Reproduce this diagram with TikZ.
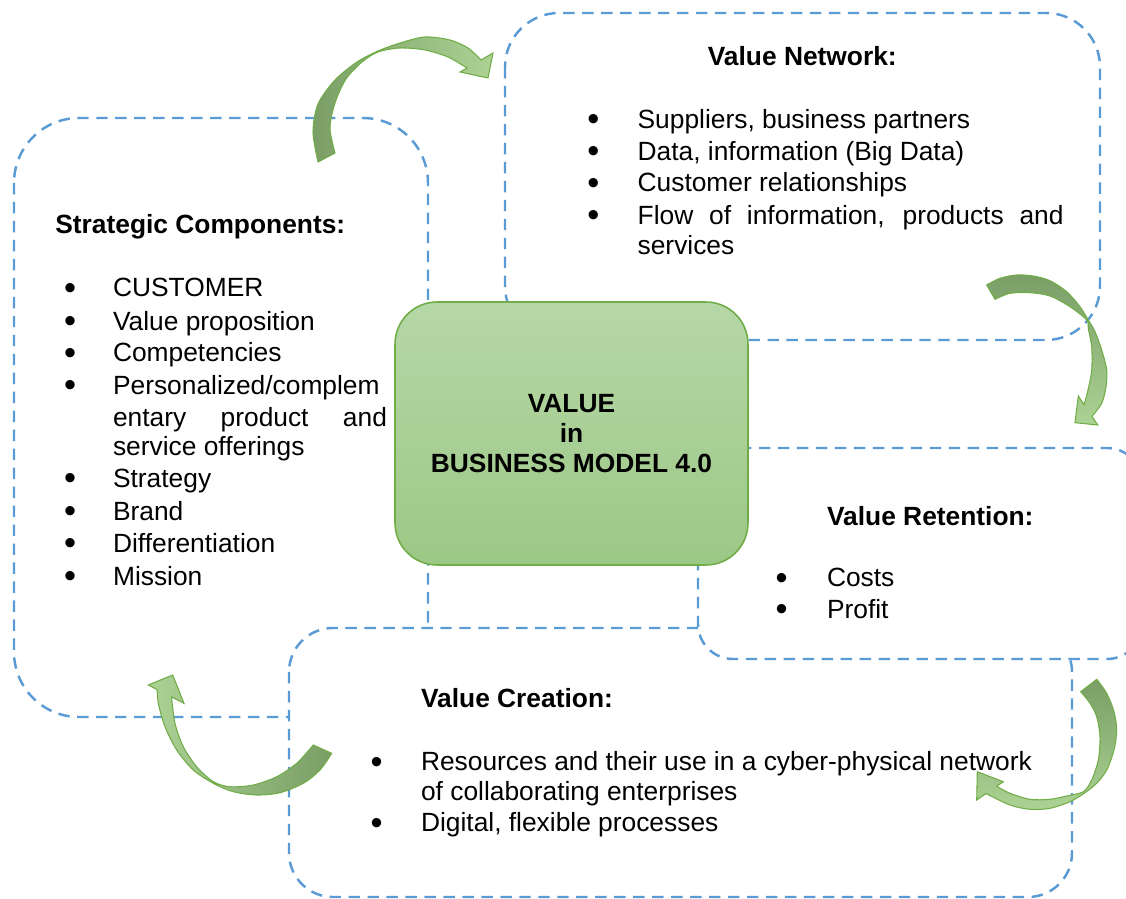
\documentclass[tikz,border=0pt]{standalone}
\usepackage{fontspec}
\setmainfont{Liberation Sans}
\definecolor{boxblue}{RGB}{91,155,213}
\definecolor{leafline}{RGB}{112,173,71}
\definecolor{leaftop}{RGB}{182,215,167}
\definecolor{leafbottom}{RGB}{156,200,134}
\definecolor{arrowdark}{RGB}{122,158,102}
\definecolor{arrowlight}{RGB}{172,210,148}
\newcommand{\bigdot}{\raisebox{-1.5pt}{\scalebox{1.3}{\textbullet}}}

\begin{document}
\begin{tikzpicture}[x=0.02cm, y=-0.02cm,
	dashbox/.style={draw=boxblue, line width=1.4pt, dash pattern=on 6.5pt off 4.3pt, fill=white},
	valuebox/.style={draw=leafline, line width=0.9pt, top color=leaftop, bottom color=leafbottom, rounded corners=0.84cm, minimum width=7.06cm, minimum height=5.26cm, align=center, font=\fontsize{15}{17}\selectfont\bfseries},
	bendarrow/.style={draw=leafline, line width=0.6pt},
	itemtext/.style={anchor=base west, inner sep=0pt, font=\fontsize{15}{18}\selectfont},
	headtext/.style={anchor=base west, inner sep=0pt, font=\fontsize{15}{18}\selectfont\bfseries},
	bulletdot/.style={anchor=base, inner sep=0pt, font=\fontsize{15}{18}\selectfont}]
			%%%%% START %%%%%
			
			\useasboundingbox (0,0) rectangle (1126,899);
			\clip (0,0) rectangle (1126,899);
			
			% dashed boxes
			\draw[dashbox, rounded corners=1.3cm] (14,118) rectangle (428,717);
			\draw[dashbox, rounded corners=1.08cm] (505,13) rectangle (1100,340);
			\draw[dashbox, rounded corners=0.88cm] (289,628) rectangle (1072,897);
			\draw[dashbox, rounded corners=0.7cm] (698,448) rectangle (1142,659);
			
			% centre
			\node[valuebox] (value) at (571.5,433.5) {VALUE\\in\\BUSINESS MODEL 4.0};
			
			% curved arrows
			\draw[bendarrow, left color=arrowdark, right color=arrowlight]
				plot[smooth] coordinates {(318,162) (313,132) (318,104) (335,80) (357,62) (378,51) (400,43) (425,37) (450,40) (468,48) (481,60)}
				-- (493,53) -- (488,78) -- (460,72)
				-- plot[smooth] coordinates {(467,68) (448,57) (425,50) (400,48) (378,52) (362,62) (346,79) (335,103) (330,128) (335,153)}
				-- cycle;
			
			\draw[bendarrow, top color=arrowdark, bottom color=arrowlight]
				plot[smooth] coordinates {(986.7,285) (1000,278.3) (1016.7,275) (1033.3,276) (1050,280.7) (1066.7,291.7) (1080,306.7) (1088.3,320) (1095,331.7) (1101.7,350) (1106.7,370) (1106,386.7) (1101.7,403.3) (1092,416.3)}
				-- (1097.7,425) -- (1075,422.7) -- (1078.3,396)
				-- plot[smooth] coordinates {(1084.1,404.7) (1088,390) (1091.7,370) (1091.7,346.7) (1088.3,329) (1086.7,320) (1070,306.7) (1050,296) (1030,292.7) (1010,293.3) (995,299.3)}
				-- cycle;
			
			\draw[bendarrow, top color=arrowdark, bottom color=arrowlight]
				plot[smooth] coordinates {(1096.7,679.3) (1106.7,693.3) (1114,711.7) (1116.7,730) (1114,750) (1106.7,770) (1096.7,783.3) (1085,792.7) (1070,801.7) (1050,808.3) (1030,809.3) (1010,805) (986,793.6)}
				-- (976.7,800) -- (977.3,771.7) -- (1003.3,781.7)
				-- plot[smooth] coordinates {(996.7,786.3) (1010,793.3) (1030,799.3) (1050,799.3) (1066.7,796) (1083.3,791.7) (1091.7,780) (1098.3,760) (1100,736.7) (1096.7,716.7) (1090,703.3) (1080.7,691.7)}
				-- cycle;
			
			\draw[bendarrow, left color=arrowlight, right color=arrowdark]
				plot[smooth] coordinates {(331.7,753.3) (320,770) (303.3,783.3) (280,792.7) (256.7,795) (233.3,791.7) (213.3,783.3) (193.3,770) (176.7,750) (165,726.7) (158.3,703.3) (157.2,689.6)}
				-- (148.3,685) -- (172.7,675) -- (184,703.3)
				-- plot[smooth] coordinates {(171.5,696.9) (175,723.3) (183.3,746.7) (196.7,766.7) (213.3,781.7) (230,786.7) (253.3,785) (276.7,776.7) (296.7,763.3) (313.3,745)}
				-- cycle;
			
			% strategic components
			\node[headtext] (stratHead) at (55,233.3) {Strategic Components:};
			\node[bulletdot] (stratB1) at (70,296.7) {\bigdot};
			\node[itemtext] (strat1) at (112.7,296.7) {CUSTOMER};
			\node[bulletdot] (stratB2) at (70,330) {\bigdot};
			\node[itemtext] (strat2) at (112.7,330) {Value proposition};
			\node[bulletdot] (stratB3) at (70,361.7) {\bigdot};
			\node[itemtext] (strat3) at (112.7,361.7) {Competencies};
			\node[bulletdot] (stratB4) at (70,394) {\bigdot};
			\node[itemtext] (strat4a) at (112.7,394) {Personalized/complem};
			\node[itemtext] (strat4b) at (112.7,426.7) {\makebox[5.48cm][s]{entary product and}};
			\node[itemtext] (strat4c) at (112.7,455) {service offerings};
			\node[bulletdot] (stratB5) at (70,487.3) {\bigdot};
			\node[itemtext] (strat5) at (112.7,487.3) {Strategy};
			\node[bulletdot] (stratB6) at (70,520) {\bigdot};
			\node[itemtext] (strat6) at (112.7,520) {Brand};
			\node[bulletdot] (stratB7) at (70,552.3) {\bigdot};
			\node[itemtext] (strat7) at (112.7,552.3) {Differentiation};
			\node[bulletdot] (stratB8) at (70,585) {\bigdot};
			\node[itemtext] (strat8) at (112.7,585) {Mission};
			
			% value network
			\node[headtext, anchor=base] (netHead) at (802.3,65) {Value Network:};
			\node[bulletdot] (netB1) at (593.3,128.3) {\bigdot};
			\node[itemtext] (net1) at (637.3,128.3) {Suppliers, business partners};
			\node[bulletdot] (netB2) at (593.3,160) {\bigdot};
			\node[itemtext] (net2) at (637.3,160) {Data, information (Big Data)};
			\node[bulletdot] (netB3) at (593.3,191.7) {\bigdot};
			\node[itemtext] (net3) at (637.3,191.7) {Customer relationships};
			\node[bulletdot] (netB4) at (593.3,224.3) {\bigdot};
			\node[itemtext] (net4a) at (637.3,224.3) {\makebox[8.52cm][s]{Flow of information, products and}};
			\node[itemtext] (net4b) at (637.3,254) {services};
			
			% value retention
			\node[headtext] (retHead) at (826.7,525) {Value Retention:};
			\node[bulletdot] (retB1) at (781.7,586.7) {\bigdot};
			\node[itemtext] (ret1) at (826.7,586.7) {Costs};
			\node[bulletdot] (retB2) at (781.7,618.3) {\bigdot};
			\node[itemtext] (ret2) at (826.7,618.3) {Profit};
			
			% value creation
			\node[headtext] (creHead) at (420.7,707.3) {Value Creation:};
			\node[bulletdot] (creB1) at (376.7,770.7) {\bigdot};
			\node[itemtext] (cre1a) at (420.7,770.7) {Resources and their use in a cyber-physical network};
			\node[itemtext] (cre1b) at (420.7,800) {of collaborating enterprises};
			\node[bulletdot] (creB2) at (376.7,831.7) {\bigdot};
			\node[itemtext] (cre2) at (420.7,831.7) {Digital, flexible processes};
			
			%%%%% END %%%%%
\end{tikzpicture}
\end{document}
